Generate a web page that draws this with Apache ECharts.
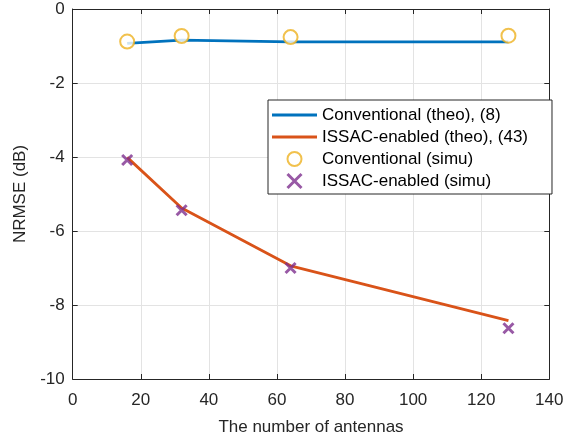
<!DOCTYPE html>
<html>
<head>
<meta charset="utf-8">
<script src="https://cdn.jsdelivr.net/npm/echarts@6/dist/echarts.min.js"></script>
<style>
html,body{margin:0;padding:0;background:#fff;}
#chart{width:584px;height:441px;}
</style>
</head>
<body>
<div id="chart"></div>
<script>
var antennas = [16, 32, 64, 128];
var convTheo = [-0.93, -0.84, -0.89, -0.89];
var issacTheo = [-4.01, -5.38, -6.94, -8.42];
var convSimu = [-0.88, -0.73, -0.76, -0.72];
var issacSimu = [-4.08, -5.44, -7.00, -8.63];
var xTicks = [0, 20, 40, 60, 80, 100, 120, 140];
var yTicks = [-10, -8, -6, -4, -2, 0];
var names = ['Conventional (theo), (8)', 'ISSAC-enabled (theo), (43)', 'Conventional (simu)', 'ISSAC-enabled (simu)'];

function pairs(xs, ys) { return xs.map(function (x, i) { return [x, ys[i]]; }); }

var axisColor = '#262626';
var gridColor = '#e3e3e3';
var fontFamily = 'Liberation Sans, Arial, Helvetica, sans-serif';
var fs = 17;
var crossPath = 'path://M0,0L10,10M10,0L0,10';

var chart = echarts.init(document.getElementById('chart'), null, {renderer: 'canvas'});

function xAxisBase(pos, showLabel) {
  return {
    type: 'value', position: pos,
    min: xTicks[0], max: xTicks[xTicks.length - 1], interval: 20,
    axisLine: {show: true, onZero: false, lineStyle: {color: axisColor, width: 1}},
    axisTick: {show: true, inside: true, length: 5, lineStyle: {color: axisColor}},
    axisLabel: {show: showLabel, color: axisColor, fontSize: fs, fontFamily: fontFamily, margin: 13},
    splitLine: {show: showLabel, lineStyle: {color: gridColor, width: 1}}
  };
}
function yAxisBase(pos, showLabel) {
  return {
    type: 'value', position: pos,
    min: yTicks[0], max: yTicks[yTicks.length - 1], interval: 2,
    axisLine: {show: true, onZero: false, lineStyle: {color: axisColor, width: 1}},
    axisTick: {show: true, inside: true, length: 5, lineStyle: {color: axisColor}},
    axisLabel: {show: showLabel, color: axisColor, fontSize: fs, fontFamily: fontFamily, margin: 8},
    splitLine: {show: showLabel, lineStyle: {color: gridColor, width: 1}}
  };
}

var xMain = xAxisBase('bottom', true);
xMain.name = 'The number of antennas';
xMain.nameLocation = 'middle';
xMain.nameGap = 40;
xMain.nameTextStyle = {color: axisColor, fontSize: fs, fontFamily: fontFamily};
var yMain = yAxisBase('left', true);
yMain.name = 'NRMSE (dB)';
yMain.nameLocation = 'middle';
yMain.nameGap = 38;
yMain.nameTextStyle = {color: axisColor, fontSize: fs, fontFamily: fontFamily};

var option = {
  backgroundColor: '#ffffff',
  animation: false,
  textStyle: {fontFamily: fontFamily},
  grid: {left: 72.7, right: 34.7, top: 9, bottom: 60.3, containLabel: false},
  xAxis: [xMain, xAxisBase('top', false)],
  yAxis: [yMain, yAxisBase('right', false)],
  legend: {
    orient: 'vertical',
    left: 268, top: 100,
    padding: [4, 24, 2, 4],
    itemWidth: 45, itemHeight: 14, itemGap: 0,
    backgroundColor: '#ffffff',
    borderColor: axisColor, borderWidth: 1,
    symbolKeepAspect: true,
    textStyle: {color: '#000000', fontSize: fs, fontFamily: fontFamily, lineHeight: 22, padding: [0, 0, 0, 0]},
    data: [
      {name: names[0], icon: 'path://M0,0H45V2.8H0Z'},
      {name: names[1], icon: 'path://M0,0H45V2.8H0Z'},
      {name: names[2], itemStyle: {borderWidth: 3}},
      {name: names[3], itemStyle: {borderWidth: 3}}
    ]
  },
  series: [
    {
      name: names[0], type: 'line', data: pairs(antennas, convTheo),
      symbol: 'none', lineStyle: {color: '#0072BD', width: 2.8}, itemStyle: {color: '#0072BD'}, z: 2
    },
    {
      name: names[1], type: 'line', data: pairs(antennas, issacTheo),
      symbol: 'none', lineStyle: {color: '#D95319', width: 2.8}, itemStyle: {color: '#D95319'}, z: 2
    },
    {
      name: names[2], type: 'scatter', data: pairs(antennas, convSimu),
      symbol: 'emptyCircle', symbolSize: 14,
      itemStyle: {color: '#EDB120', borderColor: '#EDB120', borderWidth: 3}, z: 3
    },
    {
      name: names[3], type: 'scatter', data: pairs(antennas, issacSimu),
      symbol: crossPath, symbolSize: 10, symbolKeepAspect: true,
      itemStyle: {color: 'rgba(0,0,0,0)', borderColor: '#7E2F8E', borderWidth: 3}, z: 3
    }
  ]
};
chart.setOption(option);
</script>
</body>
</html>
